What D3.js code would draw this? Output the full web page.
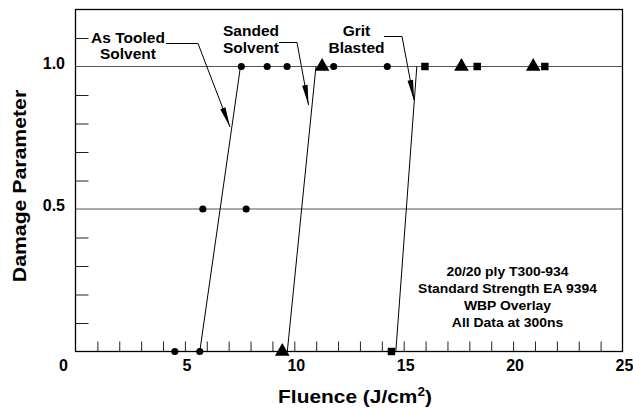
<!DOCTYPE html>
<html>
<head>
<meta charset="utf-8">
<script src="https://cdn.jsdelivr.net/npm/d3@7"></script>
<style>
  body { margin: 0; background: #fff; }
  text { font-family: "Liberation Sans", Arial, Helvetica, sans-serif; font-weight: bold; fill: #000; }
</style>
</head>
<body>
<svg id="chart"></svg>
<script>
// data (fluence J/cm2, damage parameter)
let asTooledX = [4.54, 5.68, 5.82, 7.80, 7.58, 8.76, 9.67, 11.8, 14.25];
let asTooledY = [0, 0, 0.5, 0.5, 1, 1, 1, 1, 1];
let sandedX = [9.45, 11.27, 17.64, 20.92];
let sandedY = [0, 1, 1, 1];
let gritX = [14.44, 15.97, 18.36, 21.45];
let gritY = [0, 1, 1, 1];

// fitted threshold lines: fluence at damage 0 and at damage 1
let fitX0 = [5.68, 9.68, 14.64];
let fitX1 = [7.54, 10.99, 15.60];

let xTickLabels = [0, 5, 10, 15, 20, 25];
let yTickLabels = [0.5, 1.0];
let xMinorTicks = d3.range(1, 25);
let yMinorTicks = [0.1, 0.2, 0.3, 0.4, 0.6, 0.7, 0.8, 0.9, 1.1];

let annotLabels = [["As Tooled", "Solvent"], ["Sanded", "Solvent"], ["Grit", "Blasted"]];
let noteLines = ["20/20 ply T300-934", "Standard Strength EA 9394", "WBP Overlay", "All Data at 300ns"];

let makeChart = function () {
    let width = 633, height = 408;
    let svg = d3.select('#chart').attr("width", width).attr("height", height);

    svg.append("rect").attr("width", width).attr("height", height).attr("fill", "#fff");

    let x = d3.scaleLinear().domain([0, 25]).range([75.5, 622.5]);
    let y = d3.scaleLinear().domain([0, 1.2]).range([351.5, 9.5]);

    // grid lines at 0.5 and 1.0
    svg.selectAll(".grid")
        .data(yTickLabels)
        .enter()
        .append("line")
        .attr("x1", x(0)).attr("x2", x(25))
        .attr("y1", function(d) { return y(d); })
        .attr("y2", function(d) { return y(d); })
        .attr("stroke", "#555")
        .attr("stroke-width", 1);

    // minor ticks, pointing inward
    let yAx = svg.append("g")
        .attr("transform", "translate(" + x(0) + ",0)")
        .call(d3.axisRight(y).tickValues(yMinorTicks).tickSize(13).tickFormat(""));
    let xAx = svg.append("g")
        .attr("transform", "translate(0," + y(0) + ")")
        .call(d3.axisTop(x).tickValues(xMinorTicks).tickSize(10).tickFormat(""));
    yAx.select(".domain").remove();
    xAx.select(".domain").remove();
    svg.selectAll(".tick line").attr("stroke", "#222");

    // tick labels
    svg.selectAll(".xlab")
        .data(xTickLabels)
        .enter()
        .append("text")
        .attr("x", function(d) { return d === 0 ? x(d) - 12 : x(d) + 2; })
        .attr("y", 371)
        .attr("text-anchor", "middle")
        .attr("font-size", 16)
        .text(function(d) { return d; });

    svg.selectAll(".ylab")
        .data(yTickLabels)
        .enter()
        .append("text")
        .attr("x", 65)
        .attr("y", function(d) { return y(d) + 2; })
        .attr("text-anchor", "end")
        .attr("font-size", 16)
        .text(function(d) { return d.toFixed(1); });

    // axis titles (source lettering is a bit wide)
    let xt = svg.append("text")
        .attr("transform", "translate(355,403) scale(1.13,1)")
        .attr("text-anchor", "middle")
        .attr("font-size", 18.5);
    xt.append("tspan").text("Fluence (J/cm");
    xt.append("tspan").attr("font-size", 12).attr("dy", -7).text("2");
    xt.append("tspan").attr("dy", 7).text(")");

    svg.append("text")
        .attr("transform", "translate(26,186) rotate(-90) scale(1.18,1)")
        .attr("text-anchor", "middle")
        .attr("font-size", 18)
        .text("Damage Parameter");

    // fitted lines
    svg.selectAll(".fit")
        .data(fitX0)
        .enter()
        .append("line")
        .attr("x1", function(d) { return x(d); })
        .attr("y1", y(0))
        .attr("x2", function(d, i) { return x(fitX1[i]); })
        .attr("y2", y(1))
        .attr("stroke", "#000")
        .attr("stroke-width", 1);

    // callouts: label lines, leader polyline ending at arrow tip
    let callouts = [
        {cx: 128, base: 42.7, pts: [[166, 43.5], [198, 43.5], [230, 127]]},
        {cx: 251, base: 36.2, pts: [[279, 42.5], [297, 42.5], [308.5, 105]]},
        {cx: 356.5, base: 36.2, pts: [[384, 36.5], [402, 36.5], [414, 100]]}
    ];
    callouts.forEach(function(c, i) {
        annotLabels[i].forEach(function(t, j) {
            svg.append("text")
                .attr("x", c.cx).attr("y", c.base + j * 16.5)
                .attr("text-anchor", "middle")
                .attr("font-size", 15.5)
                .text(t);
        });
        svg.append("path")
            .attr("d", d3.line()(c.pts))
            .attr("fill", "none")
            .attr("stroke", "#000")
            .attr("stroke-width", 1);
        let a = c.pts[1], b = c.pts[2];
        let ang = Math.atan2(b[1] - a[1], b[0] - a[0]);
        let len = 20, hw = 2.8;
        let bx = b[0] - len * Math.cos(ang), by = b[1] - len * Math.sin(ang);
        let nx = -Math.sin(ang) * hw, ny = Math.cos(ang) * hw;
        svg.append("path")
            .attr("d", "M" + b[0] + "," + b[1] + "L" + (bx + nx) + "," + (by + ny) + "L" + (bx - nx) + "," + (by - ny) + "Z")
            .attr("fill", "#000");
    });

    // markers
    let addPoints = function (xs, ys, type, size) {
        svg.selectAll(null)
            .data(xs)
            .enter()
            .append("path")
            .attr("d", d3.symbol().type(type).size(size))
            .attr("transform", function(d, i) { return "translate(" + x(d) + "," + y(ys[i]) + ")"; })
            .attr("fill", "#000");
    };
    addPoints(asTooledX, asTooledY, d3.symbolCircle, 40);
    addPoints(sandedX, sandedY, d3.symbolTriangle, 92);
    addPoints(gritX, gritY, d3.symbolSquare, 56);

    // note
    noteLines.forEach(function(t, i) {
        svg.append("text")
            .attr("transform", "translate(507.5," + (276 + i * 16.9) + ") scale(1.16,1)")
            .attr("text-anchor", "middle")
            .attr("font-size", 12)
            .text(t);
    });

    // frame
    svg.append("rect")
        .attr("x", x(0)).attr("y", y(1.2))
        .attr("width", x(25) - x(0)).attr("height", y(0) - y(1.2))
        .attr("fill", "none")
        .attr("stroke", "#000")
        .attr("stroke-width", 1.3);
}

makeChart();
</script>
</body>
</html>
